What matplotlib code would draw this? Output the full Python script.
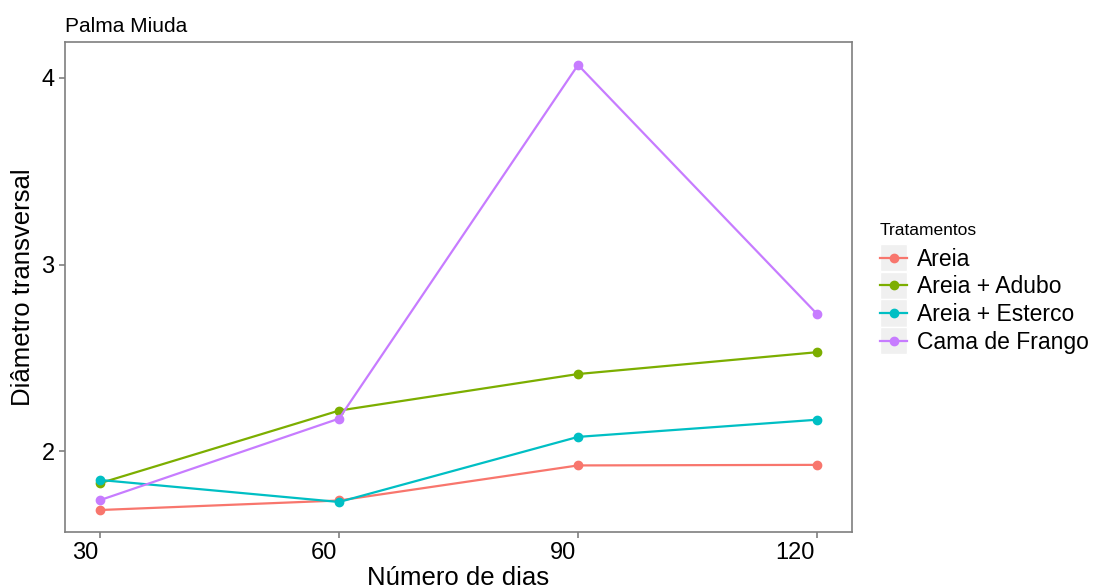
import matplotlib
matplotlib.use("Agg")
import matplotlib.pyplot as plt
from matplotlib.legend_handler import HandlerLine2D
from matplotlib.patches import Rectangle
from matplotlib.transforms import ScaledTranslation

plt.rcParams["font.family"] = ["Liberation Sans", "DejaVu Sans"]

dias = [30, 60, 90, 120]
tratamentos = ["Areia", "Areia + Adubo", "Areia + Esterco", "Cama de Frango"]
areia = [1.684, 1.735, 1.923, 1.926]
areia_adubo = [1.828, 2.217, 2.413, 2.530]
areia_esterco = [1.845, 1.727, 2.076, 2.168]
cama_frango = [1.737, 2.174, 4.070, 2.735]
cores = ["#F8766D", "#7CAE00", "#00BFC4", "#C77CFF"]


class KeyHandler(HandlerLine2D):
    # ggplot-style key: grey box behind line + point
    def create_artists(self, legend, orig_handle, xdescent, ydescent,
                       width, height, fontsize, trans):
        bg = Rectangle((-xdescent, -ydescent - 4), width, height + 8,
                       facecolor="#F0F0F0", edgecolor="white", lw=1, transform=trans)
        arts = super().create_artists(legend, orig_handle, xdescent, ydescent,
                                      width, height, fontsize, trans)
        return [bg] + arts


fig = plt.figure(figsize=(10.97, 5.88), dpi=100)
ax = fig.add_axes([0.0593, 0.0952, 0.7174, 0.8334])

series = [areia, areia_adubo, areia_esterco, cama_frango]
handles = []
for nome, vals, cor in zip(tratamentos, series, cores):
    h, = ax.plot(dias, vals, color=cor, lw=1.6, marker="o", ms=6, label=nome)
    handles.append(h)

ax.set_xlim(25.6, 124.4)
ax.set_ylim(1.566, 4.193)
ax.set_xticks(dias)
ax.set_yticks([2, 3, 4])
ax.grid(True, color="white", lw=1)
ax.set_axisbelow(True)
for s in ax.spines.values():
    s.set_color("#7F7F7F")
    s.set_linewidth(1.2)
ax.tick_params(axis="both", colors="#7F7F7F", labelcolor="black",
               labelsize=17, length=4, width=1.2)
off = ScaledTranslation(-2 / 100, 0, fig.dpi_scale_trans)
for lab in ax.get_xticklabels():
    lab.set_ha("right")
    lab.set_transform(lab.get_transform() + off)

ax.set_xlabel("Número de dias", fontsize=18.5, labelpad=1)
ax.set_ylabel("Diâmetro transversal", fontsize=18.5, labelpad=5)
ax.set_title("Palma Miuda", fontsize=15, loc="left", pad=7)

leg = fig.legend(handles=handles, title="Tratamentos", loc="upper left",
                 bbox_to_anchor=(0.802, 0.621), frameon=False, fontsize=16.5,
                 title_fontsize=12.5, handlelength=1.2, handletextpad=0.42,
                 labelspacing=0.2, borderpad=0, borderaxespad=0,
                 handler_map={h: KeyHandler() for h in handles})
leg._legend_box.align = "left"
leg._legend_box.sep = 7.2  # extra room under the legend title

fig.savefig("out.png", dpi=100)
